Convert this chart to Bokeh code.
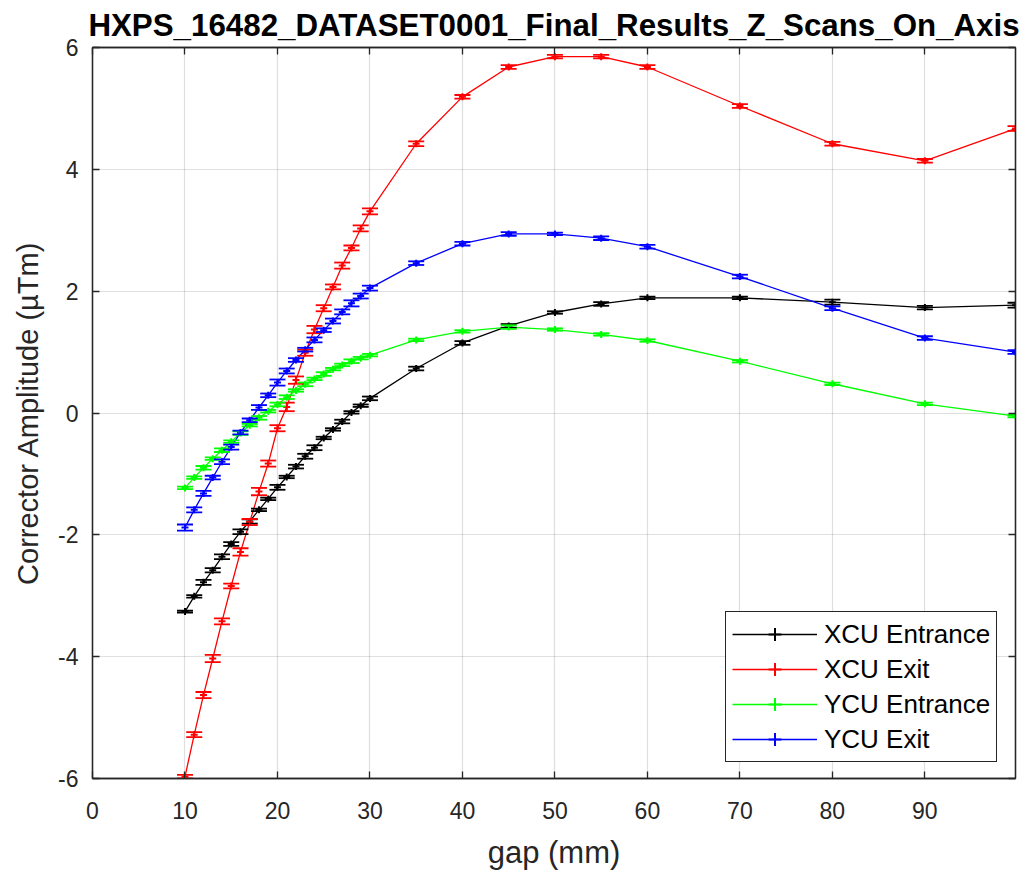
from bokeh.plotting import figure
from bokeh.models import (Range1d, FixedTicker, LinearAxis, ColumnDataSource,
                          Whisker, TeeHead, Legend, LegendItem)
from bokeh.embed import file_html
from bokeh.resources import INLINE

# ---------------- data ----------------
gap = [10, 11, 12, 13, 14, 15, 16, 17, 18, 19, 20, 21, 22, 23, 24, 25, 26, 27, 28, 29, 30,
       35, 40, 45, 50, 55, 60, 70, 80, 90, 99.8]

xcu_entrance = [-3.26, -3.01, -2.78, -2.58, -2.36, -2.15, -1.95, -1.78, -1.59, -1.41, -1.22,
                -1.05, -0.88, -0.71, -0.57, -0.41, -0.27, -0.14, 0.01, 0.12, 0.24,
                0.73, 1.15, 1.43, 1.65, 1.79, 1.89, 1.89, 1.82, 1.73, 1.77]
xcu_entrance_err = [0.015, 0.02, 0.04, 0.035, 0.04, 0.03, 0.04, 0.035, 0.02, 0.02, 0.04,
                    0.02, 0.03, 0.04, 0.04, 0.02, 0.02, 0.03, 0.02, 0.02, 0.03,
                    0.03, 0.03, 0.03, 0.02, 0.03, 0.02, 0.02, 0.04, 0.03, 0.04]

xcu_exit = [-5.97, -5.28, -4.63, -4.03, -3.42, -2.84, -2.28, -1.79, -1.29, -0.83, -0.25,
            0.10, 0.54, 0.99, 1.37, 1.72, 2.07, 2.42, 2.71, 3.03, 3.31,
            4.42, 5.19, 5.68, 5.85, 5.85, 5.68, 5.04, 4.42, 4.14, 4.67]
xcu_exit_err = [0.03, 0.04, 0.05, 0.06, 0.05, 0.04, 0.06, 0.05, 0.06, 0.05, 0.05,
                0.07, 0.06, 0.05, 0.06, 0.05, 0.04, 0.05, 0.04, 0.05, 0.05,
                0.04, 0.03, 0.03, 0.03, 0.03, 0.03, 0.03, 0.03, 0.03, 0.04]

ycu_entrance = [-1.23, -1.06, -0.90, -0.75, -0.61, -0.47, -0.33, -0.20, -0.08, 0.03, 0.14,
                0.26, 0.37, 0.47, 0.56, 0.64, 0.72, 0.79, 0.85, 0.90, 0.95,
                1.20, 1.34, 1.41, 1.37, 1.29, 1.19, 0.85, 0.48, 0.15, -0.05]
ycu_entrance_err = [0.02, 0.02, 0.03, 0.02, 0.03, 0.02, 0.03, 0.02, 0.03, 0.02, 0.03,
                    0.03, 0.02, 0.03, 0.02, 0.03, 0.02, 0.02, 0.03, 0.02, 0.02,
                    0.02, 0.02, 0.03, 0.02, 0.02, 0.02, 0.02, 0.02, 0.02, 0.02]

ycu_exit = [-1.88, -1.59, -1.32, -1.06, -0.80, -0.56, -0.32, -0.12, 0.09, 0.29, 0.50,
            0.69, 0.87, 1.04, 1.20, 1.36, 1.51, 1.66, 1.80, 1.92, 2.05,
            2.46, 2.78, 2.94, 2.94, 2.87, 2.73, 2.24, 1.72, 1.23, 1.00]
ycu_exit_err = [0.05, 0.04, 0.04, 0.03, 0.04, 0.04, 0.03, 0.03, 0.04, 0.03, 0.05,
                0.04, 0.03, 0.03, 0.04, 0.03, 0.04, 0.04, 0.05, 0.04, 0.04,
                0.03, 0.03, 0.03, 0.02, 0.03, 0.03, 0.03, 0.03, 0.03, 0.03]

series_names = ["XCU Entrance", "XCU Exit", "YCU Entrance", "YCU Exit"]
series_values = [xcu_entrance, xcu_exit, ycu_entrance, ycu_exit]
series_errors = [xcu_entrance_err, xcu_exit_err, ycu_entrance_err, ycu_exit_err]
series_colors = ["#000000", "#ff0000", "#00ff00", "#0000ff"]

x_ticks = [0, 10, 20, 30, 40, 50, 60, 70, 80, 90]
y_ticks = [-6, -4, -2, 0, 2, 4, 6]

title_text = "HXPS_16482_DATASET0001_Final_Results_Z_Scans_On_Axis"
x_label = "gap (mm)"
y_label = "Corrector Amplitude (\u00b5Tm)"

# ---------------- figure ----------------
FONT = "Liberation Sans"
AX = "#262626"

p = figure(frame_width=923, frame_height=731,
           min_border_left=92, min_border_right=8, min_border_top=47, min_border_bottom=92,
           x_range=Range1d(x_ticks[0], gap[-1]), y_range=Range1d(y_ticks[0], y_ticks[-1]),
           output_backend="svg", toolbar_location=None,
           background_fill_color="white", border_fill_color="white")

p.title.text = title_text
p.title.text_font = FONT
p.title.text_font_size = "31.3px"
p.title.text_font_style = "bold"
p.title.text_color = "#000000"
p.title.align = "center"
p.title.vertical_align = "middle"
p.title.standoff = 8

p.outline_line_color = AX
p.outline_line_width = 1.3
p.outline_line_alpha = 1

for ax, ticks in ((p.xaxis[0], x_ticks), (p.yaxis[0], y_ticks)):
    ax.ticker = FixedTicker(ticks=ticks)
    ax.major_label_overrides = {t: str(t) for t in ticks}
    ax.major_tick_in = 7
    ax.major_tick_out = 0
    ax.minor_tick_line_color = None
    ax.axis_line_color = AX
    ax.axis_line_width = 1.3
    ax.major_tick_line_color = AX
    ax.major_tick_line_width = 1.3
    ax.major_label_text_font = FONT
    ax.major_label_text_font_size = "23px"
    ax.major_label_text_color = AX
    ax.axis_label_text_font = FONT
    ax.axis_label_text_font_style = "normal"
    ax.axis_label_text_color = AX

p.xaxis[0].axis_label = x_label
p.yaxis[0].axis_label = y_label
p.xaxis[0].axis_label_text_font_size = "31px"
p.yaxis[0].axis_label_text_font_size = "29px"
p.xaxis[0].major_label_standoff = 23
p.yaxis[0].major_label_standoff = 14
p.xaxis[0].axis_label_standoff = 13
p.yaxis[0].axis_label_standoff = 11

# mirrored ticks on top and right (box on), no labels
for loc, ticks in (("above", x_ticks), ("right", y_ticks)):
    ax = LinearAxis(ticker=FixedTicker(ticks=ticks))
    ax.major_tick_in = 7
    ax.major_tick_out = 0
    ax.minor_tick_line_color = None
    ax.axis_line_color = AX
    ax.axis_line_width = 1.3
    ax.major_tick_line_color = AX
    ax.major_tick_line_width = 1.3
    ax.major_label_text_font_size = "0px"
    ax.major_label_text_color = None
    ax.major_label_standoff = 0
    p.add_layout(ax, loc)

p.xgrid.ticker = FixedTicker(ticks=x_ticks)
p.ygrid.ticker = FixedTicker(ticks=y_ticks)
for g in (p.xgrid[0], p.ygrid[0]):
    g.grid_line_color = AX
    g.grid_line_alpha = 0.15
    g.grid_line_width = 1.2

# ---------------- series ----------------
items = []
for name, vals, errs, col in zip(series_names, series_values, series_errors, series_colors):
    src = ColumnDataSource(dict(
        x=gap, y=vals,
        upper=[v + e for v, e in zip(vals, errs)],
        lower=[v - e for v, e in zip(vals, errs)],
    ))
    line_r = p.line("x", "y", source=src, line_color=col, line_width=1.3)
    wh = Whisker(source=src, base="x", upper="upper", lower="lower", dimension="height",
                 line_color=col, line_width=1.3,
                 upper_head=TeeHead(size=16, line_color=col, line_width=1.8),
                 lower_head=TeeHead(size=16, line_color=col, line_width=1.8))
    wh.level = "glyph"
    p.add_layout(wh)
    pt_r = p.scatter("x", "y", source=src, marker="cross", size=7,
                     line_color=col, line_width=2)
    items.append(LegendItem(label=name, renderers=[line_r, pt_r]))

legend = Legend(items=items, location=(633, 16), margin=0,
                padding=6, spacing=3, glyph_width=85, glyph_height=32,
                label_height=32, label_standoff=7,
                label_text_font=FONT, label_text_font_size="26px",
                label_text_color="#000000", label_text_baseline="middle",
                border_line_color=AX, border_line_width=1.3, border_line_alpha=1,
                background_fill_color="white", background_fill_alpha=1)
p.add_layout(legend)

open("out.html", "w").write(file_html(p, INLINE))
